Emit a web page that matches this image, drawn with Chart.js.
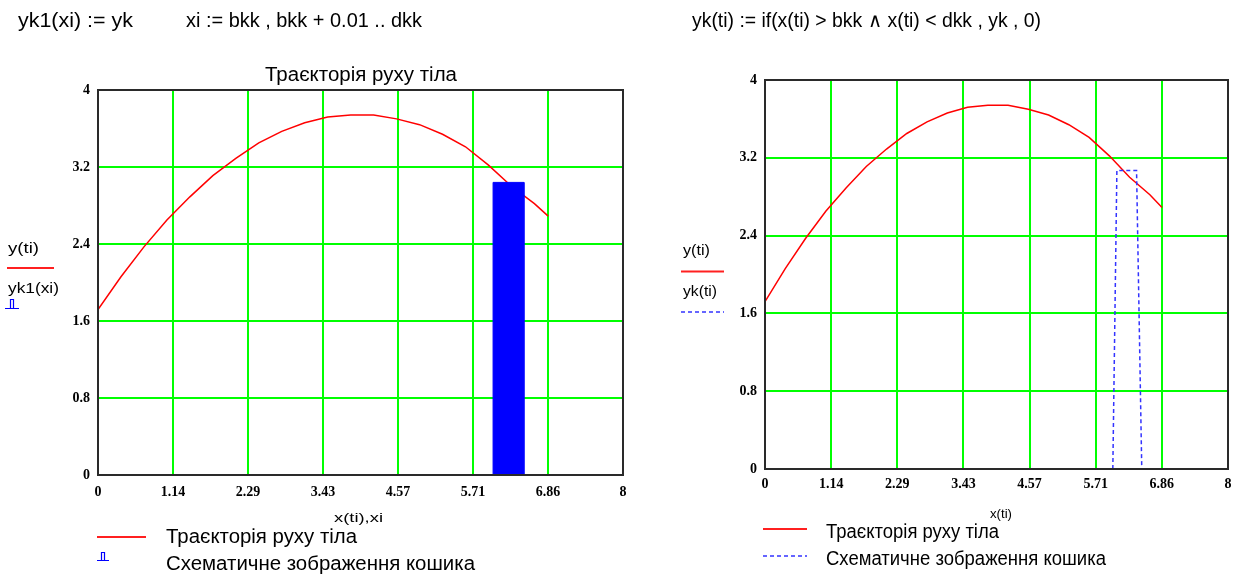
<!DOCTYPE html>
<html>
<head>
<meta charset="utf-8">
<script src="https://cdn.jsdelivr.net/npm/chart.js@4/dist/chart.umd.min.js"></script>
<style>
  html,body{margin:0;padding:0;background:#fff;}
  #wrap{position:relative;width:1240px;height:575px;overflow:hidden;background:#fff;}
  canvas{position:absolute;top:0;}
  #c1{left:0;}
  #c2{left:640px;}
  svg{position:absolute;left:0;top:0;pointer-events:none;}
  .t{font-family:"Liberation Sans",Arial,sans-serif;fill:#000;}
</style>
</head>
<body>
<div id="wrap">
  <canvas id="c1" width="640" height="575"></canvas>
  <canvas id="c2" width="600" height="575"></canvas>
  <svg width="1240" height="575" xmlns="http://www.w3.org/2000/svg">
    <!-- formulas -->
    <text class="t" x="18" y="27" font-size="20" textLength="115" lengthAdjust="spacingAndGlyphs">yk1(xi) := yk</text>
    <text class="t" x="186" y="27" font-size="20" textLength="236" lengthAdjust="spacingAndGlyphs">xi := bkk , bkk + 0.01 .. dkk</text>
    <text class="t" x="692" y="27" font-size="20" textLength="349" lengthAdjust="spacingAndGlyphs">yk(ti) := if(x(ti) &gt; bkk ∧ x(ti) &lt; dkk , yk , 0)</text>
    <!-- left title -->
    <text class="t" x="265" y="81" font-size="20" textLength="192" lengthAdjust="spacingAndGlyphs">Траєкторія руху тіла</text>
    <!-- side legend (chart 1) -->
    <text class="t" x="8" y="253" font-size="14" textLength="31" lengthAdjust="spacingAndGlyphs">y(ti)</text>
    <line x1="7" y1="268" x2="54" y2="268" stroke="#ff2020" stroke-width="2"/>
    <text class="t" x="8" y="293" font-size="14" textLength="51" lengthAdjust="spacingAndGlyphs">yk1(xi)</text>
    <path d="M5 308.5 H19 M10.5 308 V299.5 H13.5 V308" stroke="#0000ff" stroke-width="1.2" fill="none"/>
    <!-- side legend (chart 2) -->
    <text class="t" x="683" y="255" font-size="14" textLength="27" lengthAdjust="spacingAndGlyphs">y(ti)</text>
    <line x1="681" y1="271.5" x2="724" y2="271.5" stroke="#ff2020" stroke-width="2"/>
    <text class="t" x="683" y="296" font-size="14" textLength="34" lengthAdjust="spacingAndGlyphs">yk(ti)</text>
    <line x1="681" y1="312" x2="724" y2="312" stroke="#3333ff" stroke-width="1.5" stroke-dasharray="4,3"/>
    <!-- axis titles -->
    <text class="t" x="334" y="522" font-size="13" textLength="49" lengthAdjust="spacingAndGlyphs">x(ti),xi</text>
    <text class="t" x="990" y="518" font-size="13" textLength="22" lengthAdjust="spacingAndGlyphs">x(ti)</text>
    <!-- bottom legend chart 1 -->
    <line x1="97" y1="537" x2="146" y2="537" stroke="#ff2020" stroke-width="2"/>
    <text class="t" x="166" y="543" font-size="20" textLength="191" lengthAdjust="spacingAndGlyphs">Траєкторія руху тіла</text>
    <path d="M97 560.5 H109 M101.5 560 V552.5 H104.5 V560" stroke="#0000ff" stroke-width="1.2" fill="none"/>
    <text class="t" x="166" y="570" font-size="20" textLength="309" lengthAdjust="spacingAndGlyphs">Схематичне зображення кошика</text>
    <!-- bottom legend chart 2 -->
    <line x1="763" y1="529" x2="807" y2="529" stroke="#ff2020" stroke-width="2"/>
    <text class="t" x="826" y="538" font-size="20" textLength="173" lengthAdjust="spacingAndGlyphs">Траєкторія руху тіла</text>
    <line x1="763" y1="556" x2="807" y2="556" stroke="#3333ff" stroke-width="1.5" stroke-dasharray="4,3"/>
    <text class="t" x="826" y="565" font-size="20" textLength="280" lengthAdjust="spacingAndGlyphs">Схематичне зображення кошика</text>
  </svg>
</div>
<script>
// ---- data ----
const trajX = [0, 0.35, 0.7, 1.05, 1.4, 1.75, 2.1, 2.45, 2.8, 3.15, 3.5, 3.85, 4.2, 4.55, 4.9, 5.25, 5.6, 5.95, 6.3, 6.65, 6.86];
const trajY = [1.72, 2.06, 2.37, 2.65, 2.89, 3.11, 3.29, 3.45, 3.57, 3.66, 3.72, 3.74, 3.74, 3.70, 3.64, 3.54, 3.41, 3.22, 3.00, 2.82, 2.69];
const cartX = [6.02, 6.02, 6.49, 6.49];
const cartY = [0, 3.04, 3.04, 0];
const cartDashX = [6.01, 6.08, 6.42, 6.51];
const cartDashY = [0, 3.07, 3.07, 0];
const xTicks = [0, 8/7, 16/7, 24/7, 32/7, 40/7, 48/7, 8];
const xTickLabels = ["0", "1.14", "2.29", "3.43", "4.57", "5.71", "6.86", "8"];
const yTicks = [0, 0.8, 1.6, 2.4, 3.2, 4];
const yTickLabels = ["0", "0.8", "1.6", "2.4", "3.2", "4"];

const pts = (xs, ys) => xs.map((x, i) => ({x: x, y: ys[i]}));

const framePlugin = {
  id: 'frame',
  afterDatasetsDraw(chart) {
    const a = chart.chartArea, ctx = chart.ctx;
    ctx.save();
    ctx.strokeStyle = '#2a2a2a';
    ctx.lineWidth = 2;
    ctx.strokeRect(a.left, a.top, a.right - a.left, a.bottom - a.top);
    ctx.restore();
  }
};

const GREEN = 'rgb(0,255,0)';
const gridColors = (ticks) => ticks.map((t, i) => (i === 0 || i === ticks.length - 1) ? 'rgba(255,255,255,0)' : GREEN);

function makeChart(id, datasets, pad, xPadding) {
  return new Chart(document.getElementById(id), {
    type: 'scatter',
    data: { datasets: datasets },
    options: {
      responsive: false,
      animation: false,
      devicePixelRatio: 1,
      layout: { padding: pad },
      plugins: { legend: { display: false }, tooltip: { enabled: false }, title: { display: false } },
      scales: {
        x: {
          type: 'linear', min: 0, max: 8,
          afterFit: (s) => { s.height = 30; },
          afterBuildTicks: (s) => { s.ticks = xTicks.map(v => ({value: v})); },
          ticks: {
            autoSkip: false, maxRotation: 0, padding: xPadding, color: '#000',
            font: { family: 'Liberation Serif', size: 14, weight: 'bold' },
            callback: (v, i) => xTickLabels[i]
          },
          grid: { color: gridColors(xTicks), lineWidth: 2, drawTicks: false },
          border: { display: false }
        },
        y: {
          type: 'linear', min: 0, max: 4,
          afterFit: (s) => { s.width = 40; },
          afterBuildTicks: (s) => { s.ticks = yTicks.map(v => ({value: v})); },
          ticks: {
            autoSkip: false, padding: 8, color: '#000',
            font: { family: 'Liberation Serif', size: 14, weight: 'bold' },
            callback: (v, i) => yTickLabels[i]
          },
          grid: { color: gridColors(yTicks), lineWidth: 2, drawTicks: false },
          border: { display: false }
        }
      }
    },
    plugins: [framePlugin]
  });
}

makeChart('c1', [
  { label: 'Траєкторія руху тіла', data: pts(trajX, trajY), showLine: true, borderColor: '#ff0000', borderWidth: 1.5, pointRadius: 0, fill: false, order: 2 },
  { label: 'Схематичне зображення кошика', data: pts(cartX, cartY), showLine: true, borderColor: '#0000ff', backgroundColor: '#0000ff', borderWidth: 1, pointRadius: 0, fill: 'origin', order: 1 }
], { left: 58, right: 17, top: 90, bottom: 70 }, 9);

makeChart('c2', [
  { label: 'Траєкторія руху тіла', data: pts(trajX, trajY), showLine: true, borderColor: '#ff0000', borderWidth: 1.5, pointRadius: 0, fill: false, order: 2 },
  { label: 'Схематичне зображення кошика', data: pts(cartDashX, cartDashY), showLine: true, borderColor: '#3333ff', borderWidth: 1.5, borderDash: [4, 3], pointRadius: 0, fill: false, order: 1 }
], { left: 85, right: 12, top: 80, bottom: 76 }, 7);
</script>
</body>
</html>
